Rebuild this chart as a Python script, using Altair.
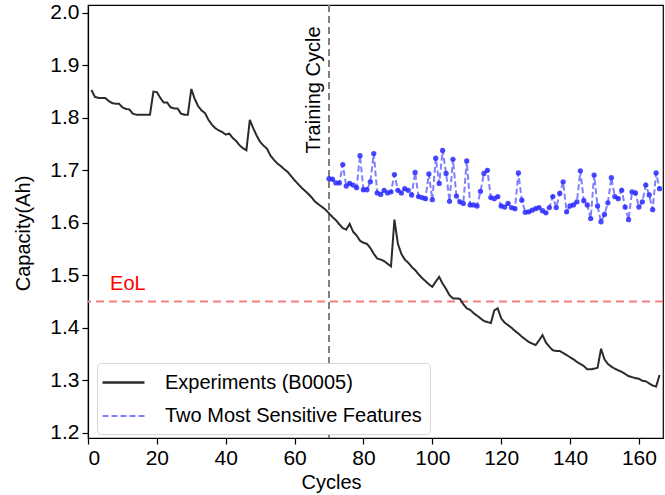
import altair as alt
import pandas as pd

# ---- data -------------------------------------------------------------
series_names = ["Experiments (B0005)", "Two Most Sensitive Features"]

exp_cycles = list(range(1, 167))
exp_capacity = [
    1.853, 1.840, 1.838, 1.838, 1.838, 1.832, 1.828, 1.827, 1.827, 1.820,
    1.817, 1.816, 1.808, 1.806, 1.806, 1.806, 1.806, 1.806, 1.850, 1.849,
    1.838, 1.829, 1.829, 1.820, 1.818, 1.818, 1.808, 1.806, 1.806, 1.855,
    1.836, 1.822, 1.814, 1.809, 1.796, 1.787, 1.780, 1.776, 1.773, 1.768,
    1.770, 1.762, 1.756, 1.748, 1.742, 1.738, 1.796, 1.780, 1.766, 1.754,
    1.747, 1.741, 1.728, 1.720, 1.713, 1.708, 1.702, 1.697, 1.689, 1.681,
    1.674, 1.667, 1.661, 1.655, 1.648, 1.640, 1.635, 1.630, 1.625, 1.618,
    1.611, 1.605, 1.597, 1.590, 1.587, 1.598, 1.583, 1.576, 1.566, 1.562,
    1.560, 1.552, 1.541, 1.532, 1.530, 1.527, 1.522, 1.517, 1.606, 1.560,
    1.541, 1.530, 1.524, 1.516, 1.510, 1.502, 1.495, 1.489, 1.483, 1.478,
    1.488, 1.497, 1.484, 1.474, 1.462, 1.456, 1.456, 1.455, 1.445, 1.437,
    1.434, 1.428, 1.423, 1.418, 1.413, 1.411, 1.409, 1.433, 1.437, 1.418,
    1.410, 1.405, 1.400, 1.394, 1.389, 1.383, 1.378, 1.373, 1.370, 1.367,
    1.376, 1.386, 1.372, 1.364, 1.357, 1.356, 1.356, 1.352, 1.348, 1.344,
    1.340, 1.335, 1.331, 1.327, 1.321, 1.321, 1.322, 1.324, 1.360, 1.340,
    1.331, 1.326, 1.322, 1.319, 1.316, 1.312, 1.308, 1.306, 1.304, 1.303,
    1.299, 1.298, 1.294, 1.290, 1.288, 1.310,
]

feat_cycles = list(range(70, 167))
feat_capacity = [
    1.684, 1.683, 1.676, 1.676, 1.711, 1.670, 1.675, 1.672, 1.667, 1.728,
    1.663, 1.663, 1.678, 1.732, 1.657, 1.654, 1.662, 1.657, 1.659, 1.692,
    1.662, 1.657, 1.665, 1.662, 1.653, 1.696, 1.650, 1.648, 1.646, 1.693,
    1.644, 1.723, 1.675, 1.738, 1.694, 1.641, 1.721, 1.651, 1.640, 1.637,
    1.718, 1.634, 1.634, 1.632, 1.660, 1.694, 1.700, 1.648, 1.646, 1.650,
    1.632, 1.630, 1.637, 1.629, 1.627, 1.695, 1.643, 1.620, 1.621, 1.624,
    1.627, 1.629, 1.623, 1.619, 1.629, 1.650, 1.629, 1.656, 1.678, 1.621,
    1.632, 1.634, 1.640, 1.699, 1.642, 1.634, 1.608, 1.691, 1.632, 1.602,
    1.616, 1.638, 1.686, 1.650, 1.646, 1.662, 1.630, 1.606, 1.659, 1.657,
    1.630, 1.640, 1.672, 1.653, 1.625, 1.695, 1.665,
]

eol_capacity = [1.45]
training_cycle = [70]
x_ticks = [0, 20, 40, 60, 80, 100, 120, 140, 160]
y_ticks = [1.2, 1.3, 1.4, 1.5, 1.6, 1.7, 1.8, 1.9, 2.0]

# ---- tables -----------------------------------------------------------
df_exp = pd.DataFrame({"cycle": exp_cycles, "capacity": exp_capacity,
                       "series": series_names[0]})
df_feat = pd.DataFrame({"cycle": feat_cycles, "capacity": feat_capacity,
                        "series": series_names[1]})
df_lines = pd.concat([df_exp, df_feat], ignore_index=True)

FONT = "Liberation Sans"

x_scale = alt.Scale(domain=[0, 167], nice=False, zero=False)
y_scale = alt.Scale(domain=[1.19, 2.015], nice=False, zero=False)

x_enc = alt.X("cycle:Q", scale=x_scale,
              axis=alt.Axis(values=x_ticks, title="Cycles", format="d",
                            titleX=243, titleY=44, titleBaseline="middle"))
y_enc = alt.Y("capacity:Q", scale=y_scale,
              axis=alt.Axis(values=y_ticks, title="Capacity(Ah)", format=".1f",
                            titleX=-65, titleY=228, titleAlign="center",
                            titleBaseline="middle"))

legend = alt.Legend(
    title=None, orient="none", legendX=9, legendY=358,
    symbolType="M-1.4,0L2.8,0", symbolSize=400, symbolStrokeWidth=2.5,
    labelFontSize=20, labelFont=FONT, labelOffset=37, labelLimit=600,
    padding=8, rowPadding=12, fillColor="white", strokeColor="#d6d6d6",
    cornerRadius=4, labelColor="black",
)

lines = alt.Chart(df_lines).mark_line(strokeWidth=2).encode(
    x=x_enc,
    y=y_enc,
    color=alt.Color("series:N",
                    scale=alt.Scale(domain=series_names,
                                    range=["#2b2b2b", "#8080ff"]),
                    legend=legend),
    strokeDash=alt.StrokeDash("series:N",
                              scale=alt.Scale(domain=series_names,
                                              range=[[1, 0], [6, 3]]),
                              legend=legend),
    strokeWidth=alt.StrokeWidth("series:N",
                                scale=alt.Scale(domain=series_names,
                                                range=[2.3, 2]),
                                legend=None),
    order="cycle:Q",
)

points = alt.Chart(df_feat).mark_circle(size=28, color="#2a2aff", opacity=0.85).encode(
    x=x_enc, y=y_enc)

eol_rule = alt.Chart(pd.DataFrame({"capacity": eol_capacity})).mark_rule(
    color="#f28080", strokeWidth=2, strokeDash=[8, 5]).encode(y=y_enc)

train_rule = alt.Chart(pd.DataFrame({"cycle": training_cycle})).mark_rule(
    color="#808080", strokeWidth=2, strokeDash=[7, 4]).encode(x=x_enc)

eol_text = alt.Chart(pd.DataFrame({"cycle": [6.4], "capacity": [1.472]})).mark_text(
    text="EoL", color="red", fontSize=20, font=FONT, align="left",
    baseline="alphabetic").encode(x=x_enc, y=y_enc)

train_text = alt.Chart(pd.DataFrame({"cycle": [67.3], "capacity": [1.732]})).mark_text(
    text="Training Cycle", color="black", fontSize=20, font=FONT, angle=270,
    align="left", baseline="alphabetic").encode(x=x_enc, y=y_enc)

chart = alt.layer(
    eol_rule, train_rule, lines, points, eol_text, train_text
).properties(
    width=575, height=433,
    autosize=alt.AutoSizeParams(type="none"),
    padding={"left": 88, "top": 5, "right": 2, "bottom": 57},
).configure_view(
    stroke="black", strokeWidth=1.2
).configure_axis(
    grid=False, domainColor="black", domainWidth=1.2, tickColor="black",
    tickSize=6, tickWidth=1.2, labelFont=FONT, labelFontSize=21,
    labelColor="black", labelPadding=3, titleFont=FONT, titleFontSize=20,
    titleFontWeight="normal", titleColor="black",
)

chart.save("out.html", embed_options={"renderer": "svg", "actions": False})
